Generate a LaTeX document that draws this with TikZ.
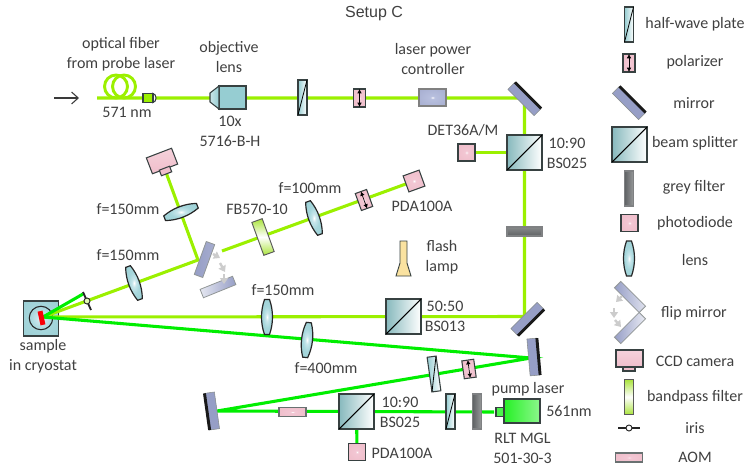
\documentclass[tikz,border=0pt]{standalone}
\usepackage{fontspec}
\setmainfont{Carlito}
\newfontfamily\titlefont{Liberation Sans}
\usetikzlibrary{arrows.meta}
\pgfdeclarelayer{backlayer}
\pgfdeclarelayer{beamlayer}
\pgfsetlayers{backlayer,beamlayer,main}
\definecolor{probecol}{RGB}{155,240,0}
\definecolor{pumpcol}{RGB}{0,238,0}
\definecolor{edgecol}{RGB}{55,65,65}
\definecolor{txtcol}{RGB}{64,64,64}
\definecolor{tealcol}{RGB}{150,205,210}
\definecolor{pinkcol}{RGB}{240,190,203}
\definecolor{mirrorcol}{RGB}{150,158,198}
\definecolor{greycol}{RGB}{95,98,100}
\definecolor{bandcol}{RGB}{170,228,60}
\definecolor{lampcol}{RGB}{250,226,160}
\pgfdeclareradialshading{pinkspot}{\pgfpointorigin}{rgb(0bp)=(1,1,1);rgb(4bp)=(0.95,0.78,0.83);rgb(25bp)=(0.94,0.75,0.80);rgb(50bp)=(0.94,0.74,0.79)}
\pgfdeclareradialshading{lensspot}{\pgfpointorigin}{rgb(0bp)=(1,1,1);rgb(6bp)=(0.78,0.90,0.92);rgb(16bp)=(0.65,0.84,0.86);rgb(50bp)=(0.58,0.80,0.82)}
\pgfdeclareradialshading{ctrlspot}{\pgfpointorigin}{rgb(0bp)=(1,1,1);rgb(4bp)=(0.72,0.75,0.87);rgb(50bp)=(0.62,0.65,0.79)}
\tikzset{
  boxsz/.style 2 args={minimum width=#1*0.75pt,minimum height=#2*0.75pt,inner sep=0pt,outer sep=0pt},
  part/.style={rectangle,draw=edgecol,line width=0.8pt},
  lbl/.style={text=txtcol,font=\fontsize{12}{15}\selectfont,inner sep=0pt,align=center},
  probe/.style={draw=probecol,line width=2.3pt},
  pump/.style={draw=pumpcol,line width=2.3pt},
  splitter/.style={part,boxsz={35}{35},left color=tealcol!90!black,right color=white},
  halfwave/.style={part,boxsz={9}{35},left color=tealcol,right color=white},
  polar/.style={part,boxsz={12}{18},shading=pinkspot},
  diode/.style={part,boxsz={17}{17},shading=pinkspot},
  mirrorbox/.style={rectangle,boxsz={37}{10},fill=mirrorcol,draw=edgecol!60,line width=0.4pt},
  backedge/.style={black!90,line width=2.2pt},
  greyflat/.style={part,draw=greycol!80,boxsz={35}{9},top color=greycol!75,bottom color=greycol},
  greyupright/.style={part,draw=greycol!80,boxsz={9}{35},left color=greycol,right color=greycol!65},
  bandbox/.style={rectangle,boxsz={9}{35},draw=gray!70!black,line width=0.7pt,top color=bandcol,bottom color=bandcol,middle color=white},
  aombox/.style={part,draw=edgecol!75,boxsz={27}{9},shading=pinkspot},
  flipbox/.style={rectangle,boxsz={35}{9},draw=edgecol!55,line width=0.6pt},
  flipmark/.style={draw=gray!40,line width=1.8pt,-{Triangle[length=4.5pt,width=6pt]}},
  polarrow/.style={black,line width=0.5pt,{Latex[length=3.2pt,width=3.4pt]}-{Latex[length=3.2pt,width=3.4pt]}},
  irisbar/.style={draw=black!85,line width=1.4pt},
  irisdot/.style={circle,draw=black!85,fill=white,line width=0.7pt,minimum size=6*0.75pt,inner sep=0pt},
}
\newcommand{\lensshape}[4]{% name, x, y, angle
  \coordinate (#1) at (#2,#3);
  \path[shading=lensspot,draw=black!85,line width=0.9pt,shift={(#2,#3)},rotate=#4]
    (-2.5,-17.5) -- (2.5,-17.5) .. controls (6.5,-6) and (6.5,6) .. (2.5,17.5)
    -- (-2.5,17.5) .. controls (-6.5,6) and (-6.5,-6) .. (-2.5,-17.5) -- cycle;
}
\begin{document}
\begin{tikzpicture}[x=0.75pt,y=-0.75pt]
\useasboundingbox (0,0) rectangle (748,467);

% --- key points on the beams
\coordinate (fibA) at (97,98);
\coordinate (hitTop) at (524.5,98);
\coordinate (hitLow) at (524.5,316.5);
\coordinate (sampleC) at (43,317);
\coordinate (hitFlip) at (198,260);
\coordinate (flipOut) at (222,251);
\coordinate (hitM2) at (531,358);
\coordinate (hitM3) at (217,411);
\coordinate (pumpEnd) at (494,412);
\coordinate (irisTop) at (83,294);
\coordinate (arrowA) at (54,98);
\coordinate (arrowB) at (79,98);

% --- sample (below the beams)
\begin{pgfonlayer}{backlayer}
  \node[part,boxsz={35}{35},shading=lensspot] (sample) at (41,318.5) {};
  \node[circle,draw=black!85,line width=0.8pt,minimum size=23.5*0.75pt,inner sep=0pt] (cryo) at (41,318) {};
\end{pgfonlayer}
\node[rectangle,fill=red!90!purple,boxsz={5}{14},rotate=12] (samplebar) at (41.5,318) {};

% --- upper row
\node[circle,draw=probecol,line width=2.2pt,minimum size=23*0.75pt,inner sep=0pt] (coilA) at (116,86.5) {};
\node[circle,draw=probecol,line width=2.2pt,minimum size=23*0.75pt,inner sep=0pt] (coilB) at (124,86.5) {};
\draw[edgecol,line width=0.8pt,fill=white] (153,93.5) .. controls (157,94) and (157,102) .. (153,102.5) -- cycle;
\node[part,boxsz={10}{9},fill=probecol] (coupler) at (148,98) {};
\node[part,boxsz={27}{23},fill=tealcol] (objective) at (232.5,97.5) {};
\draw[edgecol,line width=0.8pt,left color=tealcol!50,right color=tealcol] (objective.north west) -- (210,93) -- (210,102) -- (objective.south west) -- cycle;
\node[halfwave] (hwpA) at (302.5,97.5) {};
\draw[black,line width=0.6pt] (hwpA.south west) -- (hwpA.north east);
\node[polar] (polA) at (359.5,98) {};
\draw[polarrow] (polA.south) -- (polA.north);
\node[part,draw=gray,boxsz={27}{17},shading=ctrlspot] (powerctrl) at (432.5,97.5) {};
\node[mirrorbox,rotate=-45] (mirA) at (524.5,99) {};
\draw[backedge] (mirA.north west) -- (mirA.north east);
\node[diode] (detA) at (466.5,152.5) {};
\node[splitter] (bsA) at (524.5,152.5) {};
\draw[black,line width=0.8pt] (bsA.south west) -- (bsA.north east);
\node[greyflat] (greyA) at (524.5,231.5) {};
\node[mirrorbox,rotate=45] (mirB) at (527.5,319) {};
\draw[backedge] (mirB.south west) -- (mirB.south east);

% --- flash lamp
\draw[edgecol,line width=0.7pt,fill=lampcol] (400,241) -- (407,241) -- (407,263) -- (411,276) -- (396,276) -- (400,263) -- cycle;

% --- detection arm
\node[part,boxsz={27}{17},top color=pinkcol!70,bottom color=pinkcol,rotate=21] (cam) at (162,161) {};
\node[part,boxsz={11}{6},fill=pinkcol,rotate=21] (camnose) at (165.5,171) {};
\lensshape{lensCam}{181}{212}{-69}
\lensshape{lensIn}{134}{283}{20}
\node[flipbox,rotate=70,left color=mirrorcol,right color=mirrorcol!85] (flipA) at (204.5,259.5) {};
\node[flipbox,rotate=22,left color=mirrorcol!25,right color=mirrorcol] (flipB) at (218,287) {};
\draw[flipmark] (213,254) -- (220,258);
\draw[flipmark] (220,263) -- (225,272);
\draw[flipmark] (224,274) -- (224,284);
\node[bandbox,boxsz={11}{35},rotate=20] (bandA) at (263,237) {};
\lensshape{lensHun}{314}{218}{20}
\node[polar,rotate=20] (polB) at (364,200) {};
\draw[polarrow] (polB.south) -- (polB.north);
\node[diode,rotate=20] (detB) at (414,181) {};

% --- iris
\draw[irisbar] (83,292) -- (91,310);
\node[irisdot,fill=probecol!30] (irisA) at (87,301) {};

% --- lenses on the lower beams
\lensshape{lensMid}{267}{317}{0}
\node[splitter] (bsB) at (403.5,316.5) {};
\draw[black,line width=0.8pt] (bsB.south west) -- (bsB.north east);
\lensshape{lensFour}{307}{340}{-6}

% --- pump arm
\node[mirrorbox,rotate=-85] (mirC) at (533.5,357) {};
\draw[backedge] (mirC.north west) -- (mirC.north east);
\node[halfwave,rotate=8] (hwpB) at (434,374) {};
\draw[black,line width=0.6pt] (hwpB.south west) -- (hwpB.north east);
\node[polar,rotate=8] (polC) at (469,369) {};
\draw[polarrow] (polC.south) -- (polC.north);
\node[mirrorbox,rotate=-82] (mirD) at (212,411) {};
\draw[backedge] (mirD.south west) -- (mirD.south east);
\node[aombox] (aomA) at (292.5,412) {};
\node[splitter] (bsC) at (356.5,411.5) {};
\draw[black,line width=0.8pt] (bsC.south west) -- (bsC.north east);
\node[diode] (detC) at (357,452) {};
\node[halfwave] (hwpC) at (450.5,411.5) {};
\draw[black,line width=0.6pt] (hwpC.south west) -- (hwpC.north east);
\node[greyupright] (greyB) at (477,411.5) {};
\node[part,boxsz={8}{9},fill=pumpcol!70] (pumpnose) at (500,412) {};
\node[part,boxsz={36}{24},left color=pumpcol!85,right color=pumpcol!45] (pumplaser) at (522,411) {};

% --- beams
\begin{pgfonlayer}{beamlayer}
  \draw[probe] (fibA) -- (coupler.center) -- (hitTop) -- (hitLow) -- (sampleC);
  \draw[probe] (detA) -- (bsA);
  \draw[probe] (sampleC) -- (hitFlip) -- (camnose);
  \draw[probe] (flipOut) -- (detB);
  \draw[pump] (sampleC) -- (hitM2) -- (hitM3) -- (pumpEnd);
  \draw[pump] (sampleC) -- (irisTop);
  \draw[pump] (bsC) -- (detC);
\end{pgfonlayer}
\draw[txtcol!90!black,line width=0.8pt,-{Straight Barb[length=5pt,width=9pt]}] (arrowA) -- (arrowB);

% --- labels
\node[lbl,font=\titlefont\fontsize{12}{15}\selectfont] (tTitle) at (374,14) {Setup C};
\node[lbl] (tFiber) at (121,54) {optical fiber\\from probe laser};
\node[lbl] (t571) at (127,112) {571 nm};
\node[lbl] (tObj) at (229,57.5) {objective\\lens};
\node[lbl] (tObjB) at (230,131) {10x\\5716-B-H};
\node[lbl] (tPow) at (433,59.5) {laser power\\controller};
\node[lbl] (tDet) at (463,130) {DET36A/M};
\node[lbl] (tBsA) at (567,153) {10:90\\BS025};
\node[lbl] (tF1) at (128,209) {f=150mm};
\node[lbl] (tFB) at (257,209) {FB570-10};
\node[lbl] (tF2) at (310,188) {f=100mm};
\node[lbl] (tPdaA) at (422,206) {PDA100A};
\node[lbl] (tFlash) at (442,257.5) {flash\\lamp};
\node[lbl] (tF3) at (128,255) {f=150mm};
\node[lbl] (tF4) at (283,290) {f=150mm};
\node[lbl] (tBsB) at (445,316) {50:50\\BS013};
\node[lbl] (tSample) at (43,356) {sample\\in cryostat};
\node[lbl] (tF5) at (326,368) {f=400mm};
\node[lbl] (tBsC) at (400,412) {10:90\\BS025};
\node[lbl] (tPdaB) at (402,453) {PDA100A};
\node[lbl] (tPump) at (528,389) {pump laser};
\node[lbl] (t561) at (569,411) {561nm};
\node[lbl] (tRlt) at (522.5,448) {RLT MGL\\501-30-3};

% --- legend
\node[halfwave] (keyHwp) at (629,24.5) {};
\draw[black,line width=0.6pt] (keyHwp.south west) -- (keyHwp.north east);
\node[polar] (keyPol) at (629,63) {};
\draw[polarrow] (keyPol.south) -- (keyPol.north);
\node[mirrorbox,rotate=-45] (keyMir) at (629,103) {};
\draw[backedge] (keyMir.north west) -- (keyMir.north east);
\node[splitter] (keyBs) at (629.5,144.5) {};
\draw[black,line width=0.8pt] (keyBs.south west) -- (keyBs.north east);
\node[greyupright] (keyGrey) at (629,188.5) {};
\node[diode] (keyPd) at (629.5,223) {};
\lensshape{keyLens}{629}{258.5}{0}
\node[flipbox,rotate=-45,left color=mirrorcol,right color=mirrorcol!30] (keyFlipA) at (630,297) {};
\node[flipbox,rotate=45,left color=mirrorcol,right color=mirrorcol!20] (keyFlipB) at (630,328) {};
\draw[flipmark] (622,296) -- (616,302);
\draw[flipmark] (614,308) -- (614,318);
\draw[flipmark] (615,320) -- (621,327);
\node[part,boxsz={27}{17},top color=pinkcol!70,bottom color=pinkcol] (keyCam) at (629.5,358.5) {};
\node[part,boxsz={12}{4},fill=pinkcol] (keyCamN) at (629,369) {};
\node[bandbox] (keyBand) at (629,397) {};
\coordinate (keyIrisA) at (618,428);
\coordinate (keyIrisB) at (640,428);
\draw[irisbar] (keyIrisA) -- (keyIrisB);
\node[irisdot] (keyIris) at (629,428) {};
\node[aombox] (keyAom) at (629,457.5) {};

\node[lbl] (kHwp) at (695,24) {half-wave plate};
\node[lbl] (kPol) at (695,62) {polarizer};
\node[lbl] (kMir) at (694,103) {mirror};
\node[lbl] (kBs) at (695,143) {beam splitter};
\node[lbl] (kGrey) at (694,187) {grey filter};
\node[lbl] (kPd) at (695,223) {photodiode};
\node[lbl] (kLens) at (695,260) {lens};
\node[lbl] (kFlip) at (694,313) {flip mirror};
\node[lbl] (kCam) at (695,361) {CCD camera};
\node[lbl] (kBand) at (695,397) {bandpass filter};
\node[lbl] (kIris) at (695,428) {iris};
\node[lbl] (kAom) at (695,457) {AOM};
\end{tikzpicture}
\end{document}
